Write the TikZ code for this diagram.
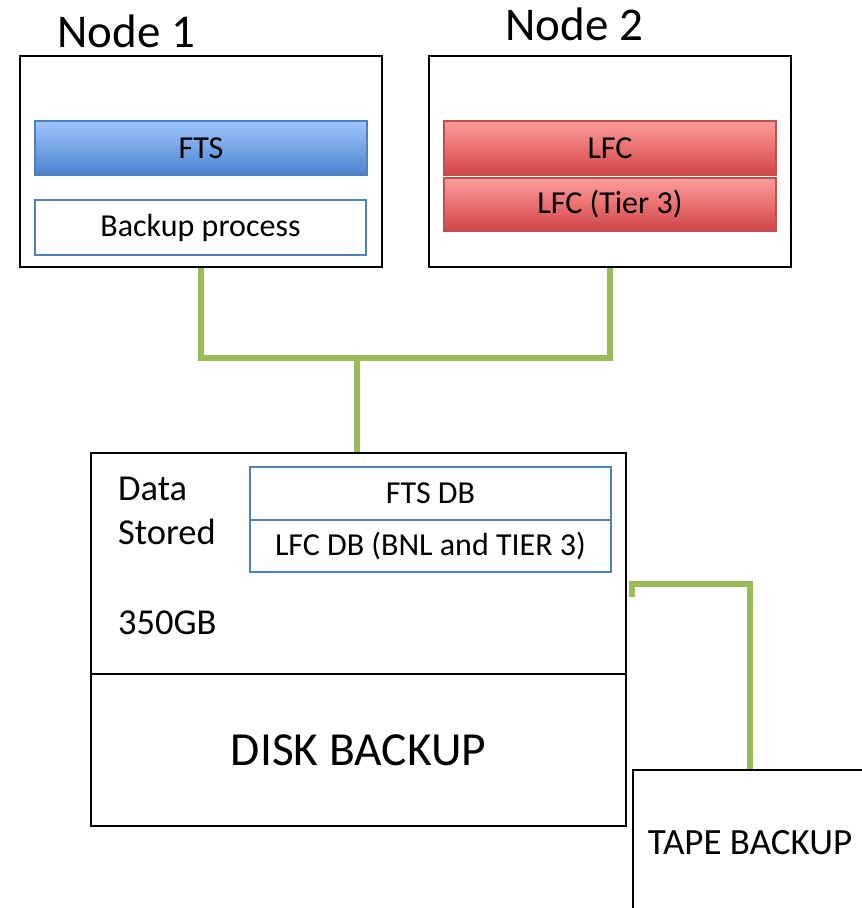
\documentclass[tikz,border=0pt]{standalone}
\usepackage{fontspec}
\setmainfont{Carlito}
\begin{document}
\begin{tikzpicture}[x=1pt,y=-1pt,
  box/.style={draw=black,line width=2pt,fill=white,rectangle,inner sep=0pt},
  thinbox/.style={draw=black,line width=1.5pt,rectangle,inner sep=0pt},
  bluebar/.style={draw=blueedge,line width=1.5pt,rectangle,inner sep=0pt,top color=ftstop,bottom color=ftsbot,font=\fontsize{32}{36}\selectfont},
  redbar/.style={draw=rededge,line width=1.5pt,rectangle,inner sep=0pt,top color=lfctop,bottom color=lfcbot,font=\fontsize{32}{36}\selectfont},
  whitebar/.style={draw=blueedge,line width=1.5pt,fill=white,rectangle,inner sep=0pt,font=\fontsize{32}{36}\selectfont},
  link/.style={draw=linkgreen,line width=6pt,line join=miter},
  title/.style={font=\fontsize{47}{50}\selectfont,inner sep=0pt,anchor=base west},
  label/.style={font=\fontsize{36.5}{40}\selectfont,inner sep=0pt,anchor=base west}]
\definecolor{blueedge}{HTML}{4F81BD}
\definecolor{rededge}{HTML}{C0504D}
\definecolor{ftstop}{HTML}{A0C4FF}
\definecolor{ftsbot}{HTML}{4A84CC}
\definecolor{lfctop}{HTML}{FF9C9A}
\definecolor{lfcbot}{HTML}{D04545}
\definecolor{linkgreen}{HTML}{9BBB59}
\useasboundingbox (0,0) rectangle (862,908);
\fill[white] (0,0) rectangle (862,908);

% titles
\node[title] (t1) at (57,47) {Node 1};
\node[title] (t2) at (505,40) {Node 2};

% node boxes
\node[box,minimum width=362pt,minimum height=211pt] (n1) at (201,161.5) {};
\node[box,minimum width=362pt,minimum height=211pt] (n2) at (610,161.5) {};
\node[bluebar,minimum width=332pt,minimum height=54pt] (fts) at (201,148) {FTS};
\node[whitebar,minimum width=331pt,minimum height=55pt] (bp) at (200.5,227.5) {Backup process};
\node[redbar,minimum width=332pt,minimum height=54pt] (lfc) at (610,148) {LFC};
\node[redbar,minimum width=332pt,minimum height=53pt] (lfc3) at (610,204.5) {LFC (Tier 3)};

% disk box
\node[thinbox,minimum width=535pt,minimum height=221pt] (dtop) at (358.5,563.5) {};
\node[thinbox,minimum width=535pt,minimum height=152pt,font=\fontsize{47.5}{50}\selectfont] (dbot) at (358.5,750) {DISK BACKUP};
\node[whitebar,minimum width=361pt,minimum height=53pt] (ftsdb) at (430.5,493.5) {FTS DB};
\node[whitebar,minimum width=361pt,minimum height=52pt] (lfcdb) at (430.5,546) {LFC DB (BNL and TIER 3)};
\node[label] (data) at (118,500) {Data};
\node[label] (stored) at (118,544) {Stored};
\node[label] (gb) at (118,634) {350GB};

% tape box
\node[thinbox,minimum width=234pt,minimum height=146pt,font=\fontsize{37}{40}\selectfont] (tape) at (750,843) {TAPE BACKUP};

% connectors
\coordinate (j) at (357,358);
\draw[link] (n1.south) -- (n1.south |- j) -- (n2.south |- j) -- (n2.south);
\draw[link] (j) -- (j |- dtop.north);
\coordinate (t0) at (632,597);
\coordinate (tc) at (750,584);
\draw[link] (t0) |- (tc) -- (tape.north);
\end{tikzpicture}
\end{document}
